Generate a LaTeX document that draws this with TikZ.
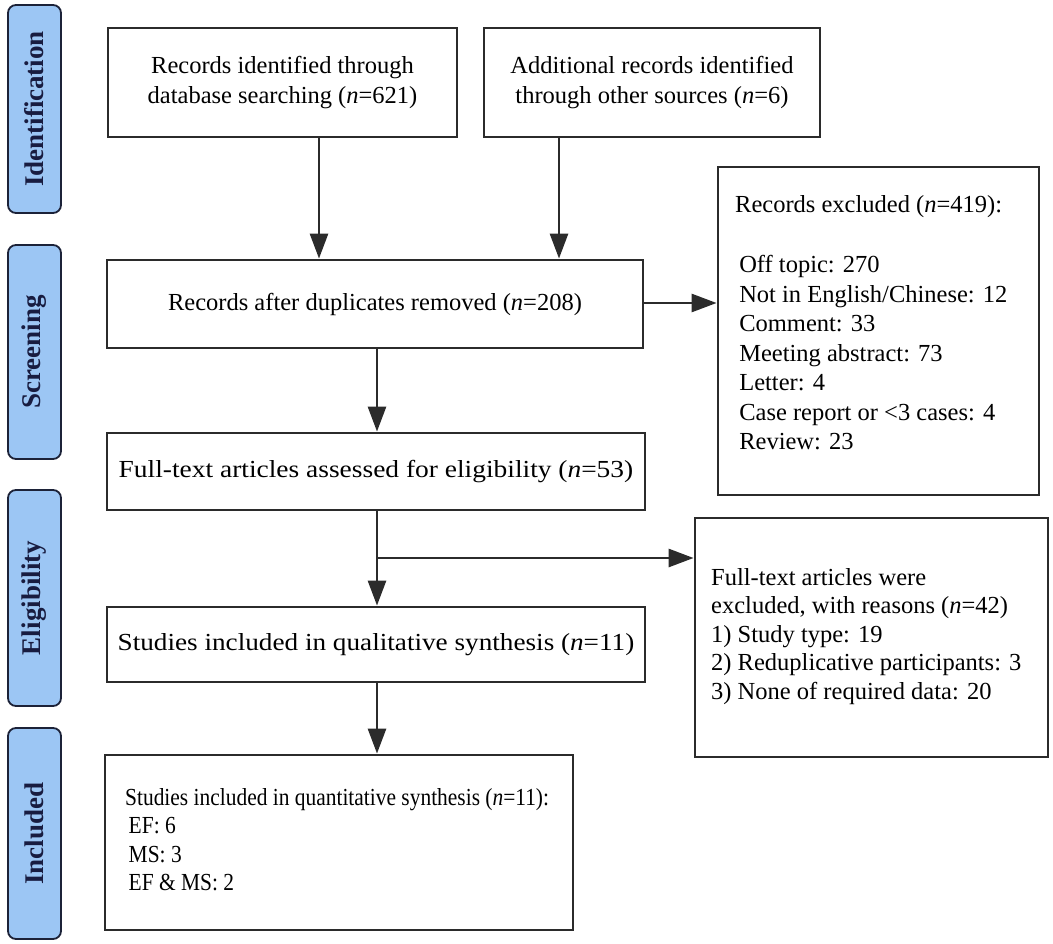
\documentclass[tikz,border=0pt]{standalone}
\usepackage{fontspec}
\setmainfont{Liberation Serif}
\usetikzlibrary{arrows.meta}
\definecolor{lblfill}{RGB}{156,198,244}
\definecolor{lbldraw}{RGB}{28,34,56}
\definecolor{lbltext}{RGB}{24,28,64}
\definecolor{ink}{RGB}{43,43,43}
\tikzset{
  box/.style={draw=ink, line width=2.8pt, rectangle, inner sep=0pt, align=center,
    font=\fontsize{24.5}{30}\selectfont},
  txt/.style={inner sep=0pt, align=left, anchor=north west,
    font=\fontsize{24.5}{28.5}\selectfont},
  phase/.style={draw=lbldraw, fill=lblfill, line width=1.8pt, rounded corners=8pt,
    rotate=90, minimum height=53pt, inner sep=0pt, text=lbltext,
    font=\fontsize{27}{30}\selectfont\bfseries},
  arr/.style={draw=ink, line width=2.8pt, -{Triangle[width=18pt,length=25pt]}},
  ln/.style={draw=ink, line width=2.8pt}
}
\begin{document}
\begin{tikzpicture}[x=1pt,y=-1pt]
\useasboundingbox (0,0) rectangle (1053,944);
% phase labels
\node[phase, minimum width=208pt] (p1) at (34.5,109) {Identification};
\node[phase, minimum width=214pt] (p2) at (34.5,352) {Screening};
\node[phase, minimum width=216pt] (p3) at (34.5,598) {Eligibility};
\node[phase, minimum width=211pt] (p4) at (34.5,833.5) {Included};
% boxes
\node[box, minimum width=349pt, minimum height=109pt] (b1) at (282.5,82.5)
  {Records identified through\\database searching (\textit{n}=621)};
\node[box, minimum width=336pt, minimum height=109pt] (b2) at (652,82.5)
  {Additional records identified\\through other sources (\textit{n}=6)};
\node[box, minimum width=536pt, minimum height=88pt] (b3) at (375,304)
  {Records after duplicates removed (\textit{n}=208)};
\node[box, minimum width=321pt, minimum height=328pt] (b4) at (878.5,331) {};
\node[txt] (t4) at (735,195)
  {Records excluded (\textit{n}=419):\\[32pt]
   \,Off topic: 270\\[1pt]
   \,Not in English/Chinese: 12\\[1pt]
   \,Comment: 33\\[1pt]
   \,Meeting abstract: 73\\[1pt]
   \,Letter: 4\\[1pt]
   \,Case report or <3 cases: 4\\[1pt]
   \,Review: 23};
\node[box, minimum width=538pt, minimum height=77pt] (b5) at (376,471.5)
  {\scalebox{1.12}[1]{Full-text articles assessed for eligibility (\textit{n}=53)}};
\node[box, minimum width=538pt, minimum height=75pt] (b6) at (376,644.5)
  {\scalebox{1.11}[1]{Studies included in qualitative synthesis (\textit{n}=11)}};
\node[box, minimum width=353pt, minimum height=239pt] (b7) at (871.5,637.5) {};
\node[txt] (t7) at (711,568)
  {Full-text articles were\\
   excluded, with reasons (\textit{n}=42)\\
   1) Study type: 19\\
   2) Reduplicative participants: 3\\
   3) None of required data: 20};
\node[box, minimum width=468pt, minimum height=175pt] (b8) at (339,842.5) {};
\node[txt, xscale=0.875] (t8) at (125,788)
  {Studies included in quantitative synthesis (\textit{n}=11):\\
   \,EF: 6\\
   \,MS: 3\\
   \,EF \& MS: 2};
% connectors
\coordinate (x1) at (319,0);
\coordinate (x2) at (559,0);
\coordinate (x3) at (377,0);
\coordinate (y3) at (0,303);
\coordinate (br) at (377,558);
\draw[arr] (b1.south -| x1) -- (b3.north -| x1);
\draw[arr] (b2.south -| x2) -- (b3.north -| x2);
\draw[arr] (b3.east |- y3) -- (b4.west |- y3);
\draw[arr] (b3.south -| x3) -- (b5.north -| x3);
\draw[arr] (b5.south -| x3) -- (b6.north -| x3);
\draw[arr] (br) -- (br -| b7.west);
\draw[arr] (b6.south -| x3) -- (b8.north -| x3);
\end{tikzpicture}
\end{document}
